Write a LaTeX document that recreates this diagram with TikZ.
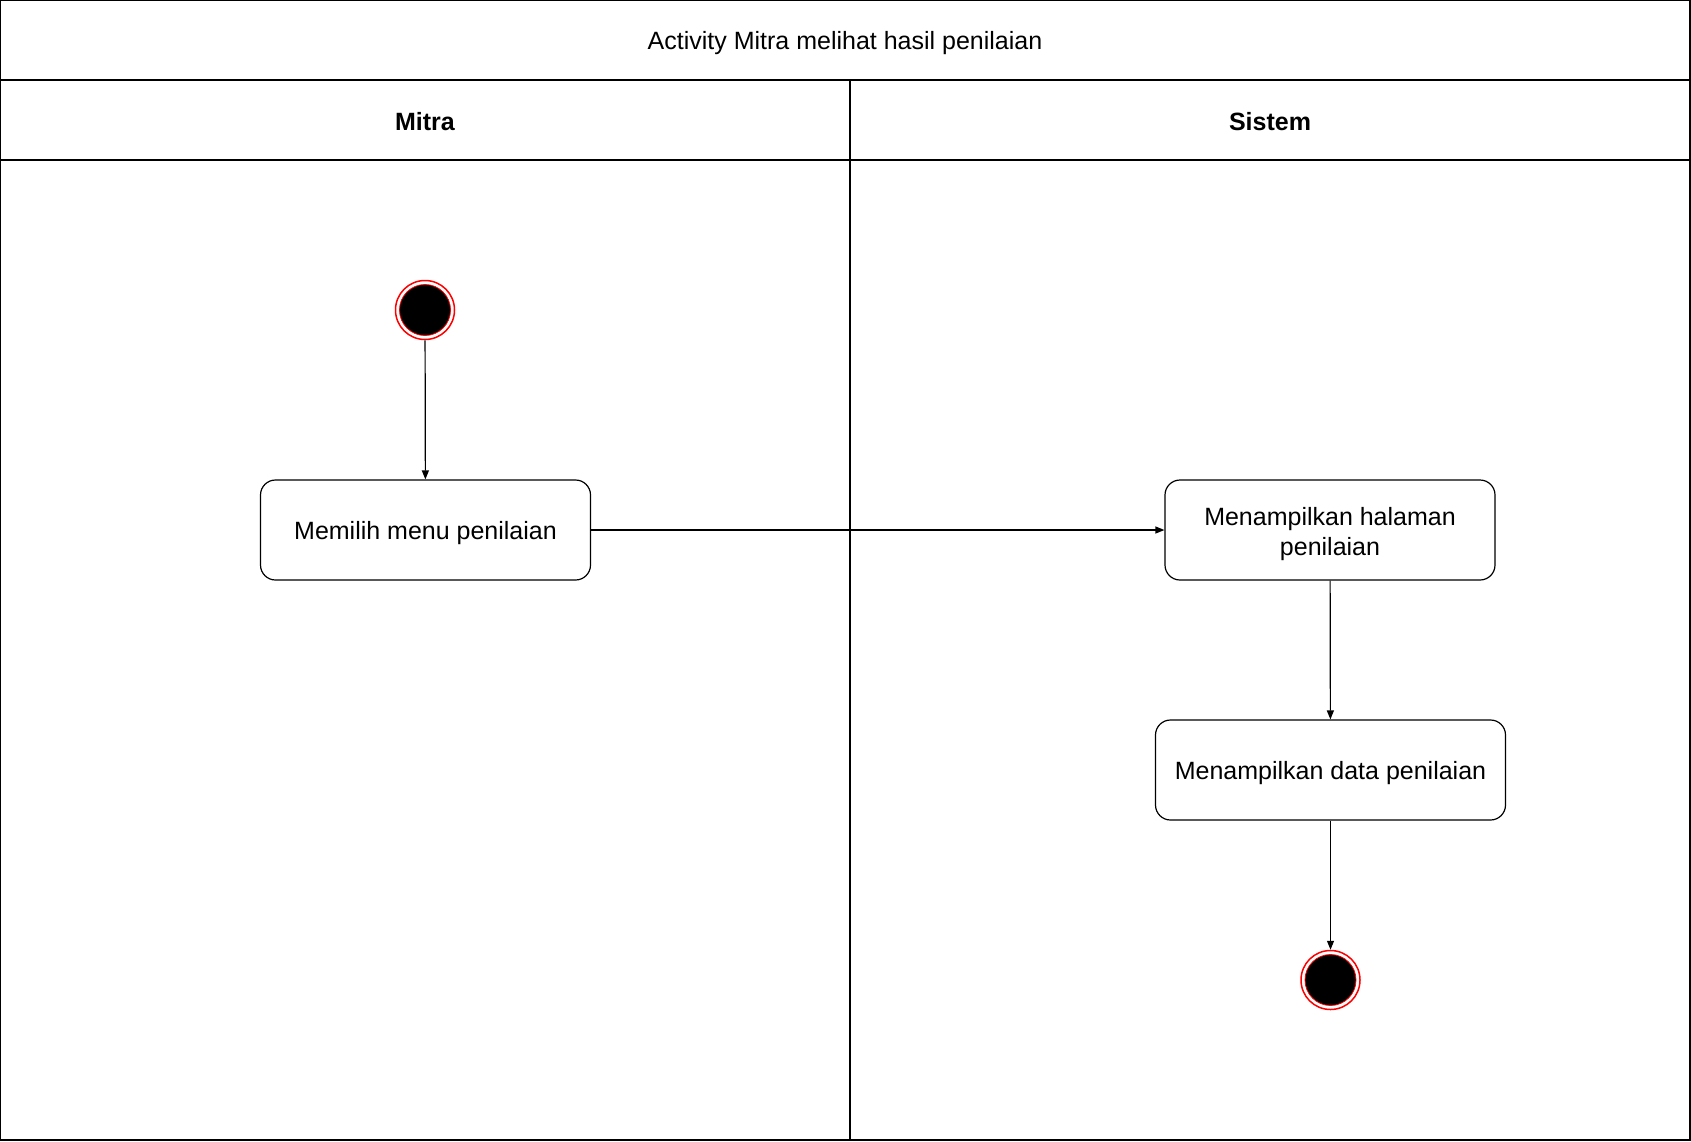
\documentclass[tikz,border=0pt]{standalone}
\usepackage{fontspec}
\setmainfont{Liberation Sans}
\usetikzlibrary{arrows.meta}
\begin{document}
\begin{tikzpicture}[x=1pt,y=-1pt,
  lane/.style={draw=black,line width=1.3pt},
  actbox/.style={draw=black,line width=1.2pt,rounded corners=15pt,fill=white,inner sep=0pt},
  acttext/.style={align=center,font=\fontsize{25}{30.5}\selectfont,inner sep=0pt},
  flow/.style={draw=black,line width=1.2pt,-{Triangle[length=9pt,width=7pt]}},
  hdr/.style={font=\bfseries\fontsize{25}{30}\selectfont},
  ttl/.style={font=\fontsize{25}{30}\selectfont},
  ring/.style={circle,draw=red,line width=1.5pt,fill=white,minimum size=59pt,inner sep=0pt},
  dot/.style={circle,draw=red,line width=0.8pt,fill=black,minimum size=51pt,inner sep=0pt}
]
\useasboundingbox (0,0) rectangle (1691,1141);
% swimlane frame
\draw[lane] (0.7,0.7) rectangle (1690,1140);
\draw[lane] (0.7,80) -- (1690,80);
\draw[lane] (0.7,160) -- (1690,160);
\draw[lane] (850,80) -- (850,1140);
\node[ttl] (title) at (845,43.5) {Activity Mitra melihat hasil penilaian};
\node[hdr] (hmitra) at (425,122) {Mitra};
\node[hdr] (hsistem) at (1270,122) {Sistem};
% start
\node[ring] (startring) at (425,310) {};
\node[dot] (start) at (425,310) {};
% activities
\node[actbox,minimum width=330pt,minimum height=100pt] (a1) at (425.5,530) {};
\node[acttext] (a1t) at ([yshift=-3.5pt]a1.center) {Memilih menu penilaian};
\node[actbox,minimum width=330pt,minimum height=100pt] (a2) at (1330,530) {};
\node[acttext] (a2t) at ([yshift=-4pt]a2.center) {Menampilkan halaman\\penilaian};
\node[actbox,minimum width=350pt,minimum height=100pt] (a3) at (1330.5,770) {};
\node[acttext] (a3t) at ([yshift=-3.5pt]a3.center) {Menampilkan data penilaian};
% end
\node[ring] (endring) at (1330.5,980) {};
\node[dot] (end) at (1330.5,980) {};
% flows
\draw[flow] (startring) -- (a1);
\draw[flow] (a1) -- (a2);
\draw[flow] (a2) -- (a3);
\draw[flow] (a3) -- (endring);
\end{tikzpicture}
\end{document}
